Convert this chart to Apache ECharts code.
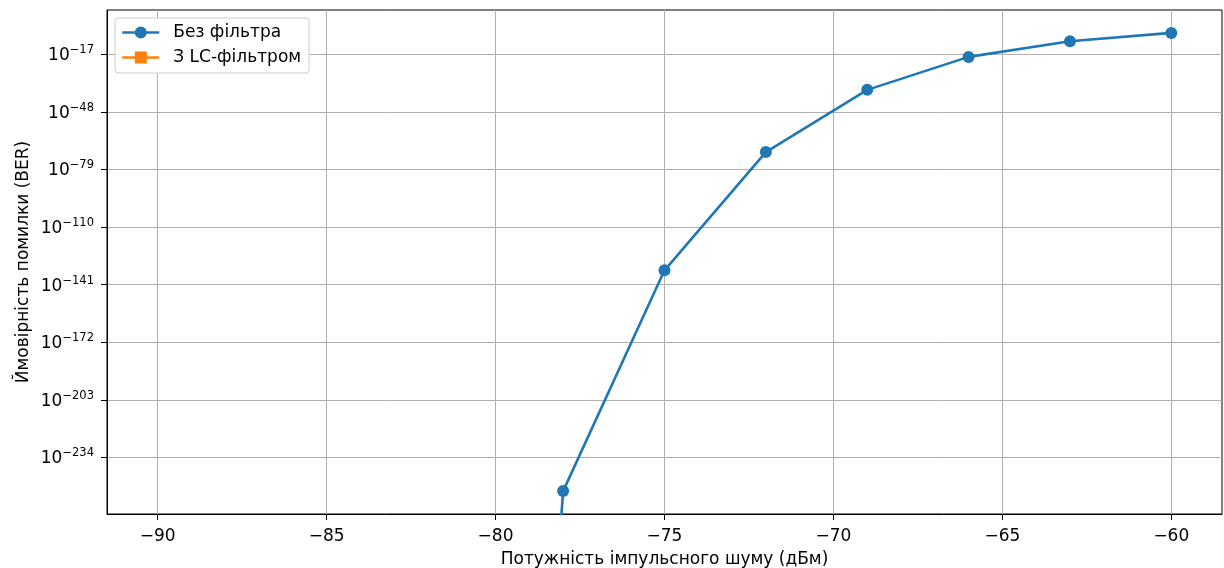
<!DOCTYPE html>
<html>
<head>
<meta charset="utf-8">
<script src="https://cdn.jsdelivr.net/npm/echarts@6/dist/echarts.min.js"></script>
<style>
html,body{margin:0;padding:0;background:#fff;}
#chart{width:1224px;height:568px;}
</style>
</head>
<body>
<div id="chart"></div>
<script>
// Noise power, dBm
const noiseDbm = [-90, -87, -84, -81, -78, -75, -72, -69, -66, -63, -60];
// BER without filter (0 = underflow, not drawn on log scale)
const berNoFilter = [0, 0, 0, 0, 7.9e-253, 5.0e-134, 2.0e-70, 6.3e-37, 3.5e-19, 1.0e-10, 2.8e-6];
// BER with LC filter (all underflow to 0)
const berLcFilter = [0, 0, 0, 0, 0, 0, 0, 0, 0, 0, 0];
// Tick labels
const xTicks = [-90, -85, -80, -75, -70, -65, -60];
const yTickExponents = [-234, -203, -172, -141, -110, -79, -48, -17];

const seriesNames = ['Без фільтра', 'З LC-фільтром'];
const xName = 'Потужність імпульсного шуму (дБм)';
const yName = 'Ймовірність помилки (BER)';

// log10 transform; non-positive values clipped far below like matplotlib (-1000 decades)
const lg = v => (v > 0 ? Math.log10(v) : -1000);
const toPairs = arr => noiseDbm.map((x, i) => [x, lg(arr[i])]);

const posLogs = berNoFilter.concat(berLcFilter).filter(v => v > 0).map(Math.log10);
const yLo = Math.min(...posLogs), yHi = Math.max(...posLogs);
const yMin = yLo - 0.05 * (yHi - yLo), yMax = yHi + 0.05 * (yHi - yLo);
const xLo = Math.min(...noiseDbm), xHi = Math.max(...noiseDbm);
const xMin = xLo - 0.05 * (xHi - xLo), xMax = xHi + 0.05 * (xHi - xLo);

const FONT = 'DejaVu Sans';
const chart = echarts.init(document.getElementById('chart'), null, {renderer: 'canvas'});
chart.setOption({
  animation: false,
  backgroundColor: '#fff',
  textStyle: {fontFamily: FONT},
  grid: {left: 107, right: 2, top: 10, bottom: 54, show: true, borderColor: '#000', borderWidth: 1,
    backgroundColor: 'transparent', outerBoundsMode: 'none', containLabel: false},
  legend: {
    orient: 'vertical', left: 115, top: 18,
    padding: [6, 8, 7, 6],
    itemWidth: 37, itemHeight: 15, itemGap: 8,
    borderColor: '#cccccc', borderWidth: 1, borderRadius: 3, backgroundColor: '#fff',
    lineStyle: {width: 2.6},
    textStyle: {fontFamily: FONT, fontSize: 17, color: '#000', padding: [0, 0, 0, 9]},
    data: seriesNames
  },
  xAxis: {
    type: 'value', min: xMin, max: xMax,
    name: xName, nameLocation: 'middle', nameGap: 37, nameMoveOverlap: false,
    nameTextStyle: {fontFamily: FONT, fontSize: 17, color: '#000'},
    axisLine: {show: true, onZero: false, lineStyle: {color: '#000', width: 1}},
    axisTick: {show: true, length: 6, inside: false, customValues: xTicks, lineStyle: {color: '#000'}},
    axisLabel: {customValues: xTicks, margin: 14, fontFamily: FONT, fontSize: 17, color: '#000',
      formatter: v => String(v).replace('-', '\u2212')},
    splitLine: {show: true, lineStyle: {color: '#b0b0b0', width: 1}}
  },
  yAxis: {
    type: 'value', min: yMin, max: yMax,
    name: yName, nameLocation: 'middle', nameGap: 75, nameRotate: 90, nameMoveOverlap: false,
    nameTextStyle: {fontFamily: FONT, fontSize: 17, color: '#000'},
    axisLine: {show: true, onZero: false, lineStyle: {color: '#000', width: 1}},
    axisTick: {show: true, length: 6, inside: false, customValues: yTickExponents, lineStyle: {color: '#000'}},
    axisLabel: {
      customValues: yTickExponents, margin: 13, color: '#000', fontFamily: FONT,
      formatter: v => '{b|10}{s|\u2212' + Math.abs(v) + '}',
      rich: {
        b: {fontSize: 17, fontFamily: FONT, color: '#000', verticalAlign: 'bottom'},
        s: {fontSize: 11.5, fontFamily: FONT, color: '#000', verticalAlign: 'top', padding: [0, 0, 8, 0]}
      }
    },
    splitLine: {show: true, lineStyle: {color: '#b0b0b0', width: 1}}
  },
  series: [
    {
      name: seriesNames[0], type: 'line', data: toPairs(berNoFilter),
      color: '#1f77b4', symbol: 'circle', symbolSize: 12, showAllSymbol: true,
      lineStyle: {width: 2.6, color: '#1f77b4'}, itemStyle: {color: '#1f77b4'},
      clip: true, z: 3
    },
    {
      name: seriesNames[1], type: 'line', data: toPairs(berLcFilter),
      color: '#ff7f0e', symbol: 'rect', symbolSize: 11, showAllSymbol: true,
      lineStyle: {width: 2.6, color: '#ff7f0e'}, itemStyle: {color: '#ff7f0e'},
      clip: true, z: 2
    }
  ]
});
</script>
</body>
</html>
